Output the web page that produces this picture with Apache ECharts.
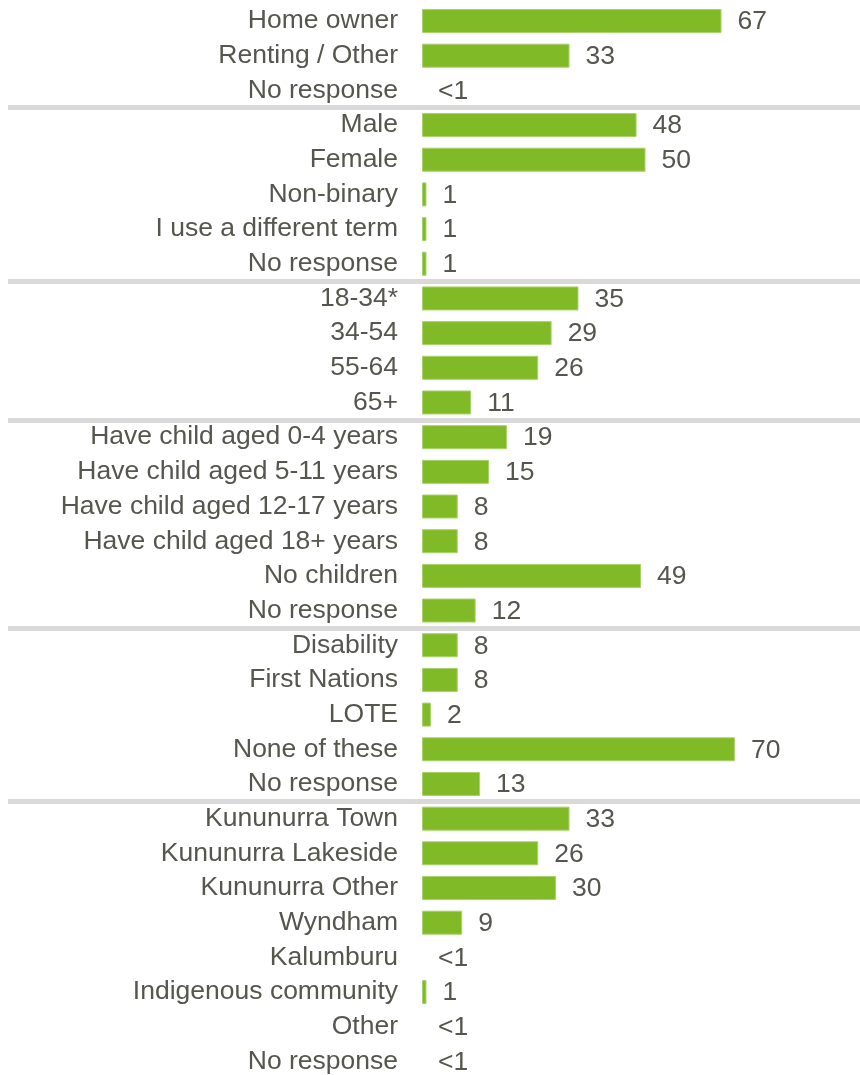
<!DOCTYPE html>
<html>
<head>
<meta charset="utf-8">
<script src="https://cdn.jsdelivr.net/npm/echarts@6/dist/echarts.min.js"></script>
<style>
html,body{margin:0;padding:0;background:#fff;overflow:hidden;}
#chart{width:860px;height:1090px;}
</style>
</head>
<body>
<div id="chart"></div>
<script>
const categories = [
  'Home owner','Renting / Other','No response',
  'Male','Female','Non-binary','I use a different term','No response',
  '18-34*','34-54','55-64','65+',
  'Have child aged 0-4 years','Have child aged 5-11 years','Have child aged 12-17 years','Have child aged 18+ years','No children','No response',
  'Disability','First Nations','LOTE','None of these','No response',
  'Kununurra Town','Kununurra Lakeside','Kununurra Other','Wyndham','Kalumburu','Indigenous community','Other','No response'
];
// 0 means "<1" (shown without a bar)
const values = [
  67,33,0,
  48,50,1,1,1,
  35,29,26,11,
  19,15,8,8,49,12,
  8,8,2,70,13,
  33,26,30,9,0,1,0,0
];
// index of the first category in each group after the first (separator drawn above it)
const groupStarts = [3,8,12,18,23];

const FONT = '"Liberation Sans", Arial, sans-serif';
const TEXT = '#56564e';
const BAR = '#80BA27';
const FS = 26.5;

const chart = echarts.init(document.getElementById('chart'), null, {renderer:'canvas'});
const band = 34.68;
const top0 = 21 - band / 2;
const XMAX = 96;
const PX_PER_UNIT = 4.47;

const barData = values.map(v => v === 0
  ? {value: 0, itemStyle: {borderWidth: 0, opacity: 0}}
  : v);

chart.setOption({
  animation: false,
  grid: [
    {left: 422, top: top0, width: XMAX * PX_PER_UNIT, height: band * 31, containLabel: false},
    {left: 8, top: top0, right: 0, height: band * 31, containLabel: false}
  ],
  xAxis: [
    {type: 'value', gridIndex: 0, min: 0, max: XMAX, show: false},
    {type: 'value', gridIndex: 1, min: 0, max: 1, show: false}
  ],
  yAxis: [
    {
      type: 'category', gridIndex: 0, data: categories, inverse: true,
      axisLine: {show: false}, axisTick: {show: false}, splitLine: {show: false},
      axisLabel: {margin: 24, fontSize: FS, color: TEXT, fontFamily: FONT, interval: 0}
    },
    {
      type: 'category', gridIndex: 1, data: categories, inverse: true,
      axisLine: {show: false}, axisTick: {show: false}, axisLabel: {show: false},
      splitLine: {
        show: true,
        interval: function (index) { return groupStarts.indexOf(index) >= 0; },
        lineStyle: {color: '#d9d9d9', width: 5}
      }
    }
  ],
  series: [{
    type: 'bar',
    xAxisIndex: 0, yAxisIndex: 0,
    data: barData,
    barWidth: 24,
    itemStyle: {color: BAR, borderColor: '#a8d26c', borderWidth: 1},
    label: {
      show: true, position: 'right', distance: 16, offset: [0, 1],
      fontSize: FS, color: TEXT, fontFamily: FONT, opacity: 1,
      formatter: function (p) { return p.value === 0 ? '<1' : String(p.value); }
    }
  }]
});
</script>
</body>
</html>
